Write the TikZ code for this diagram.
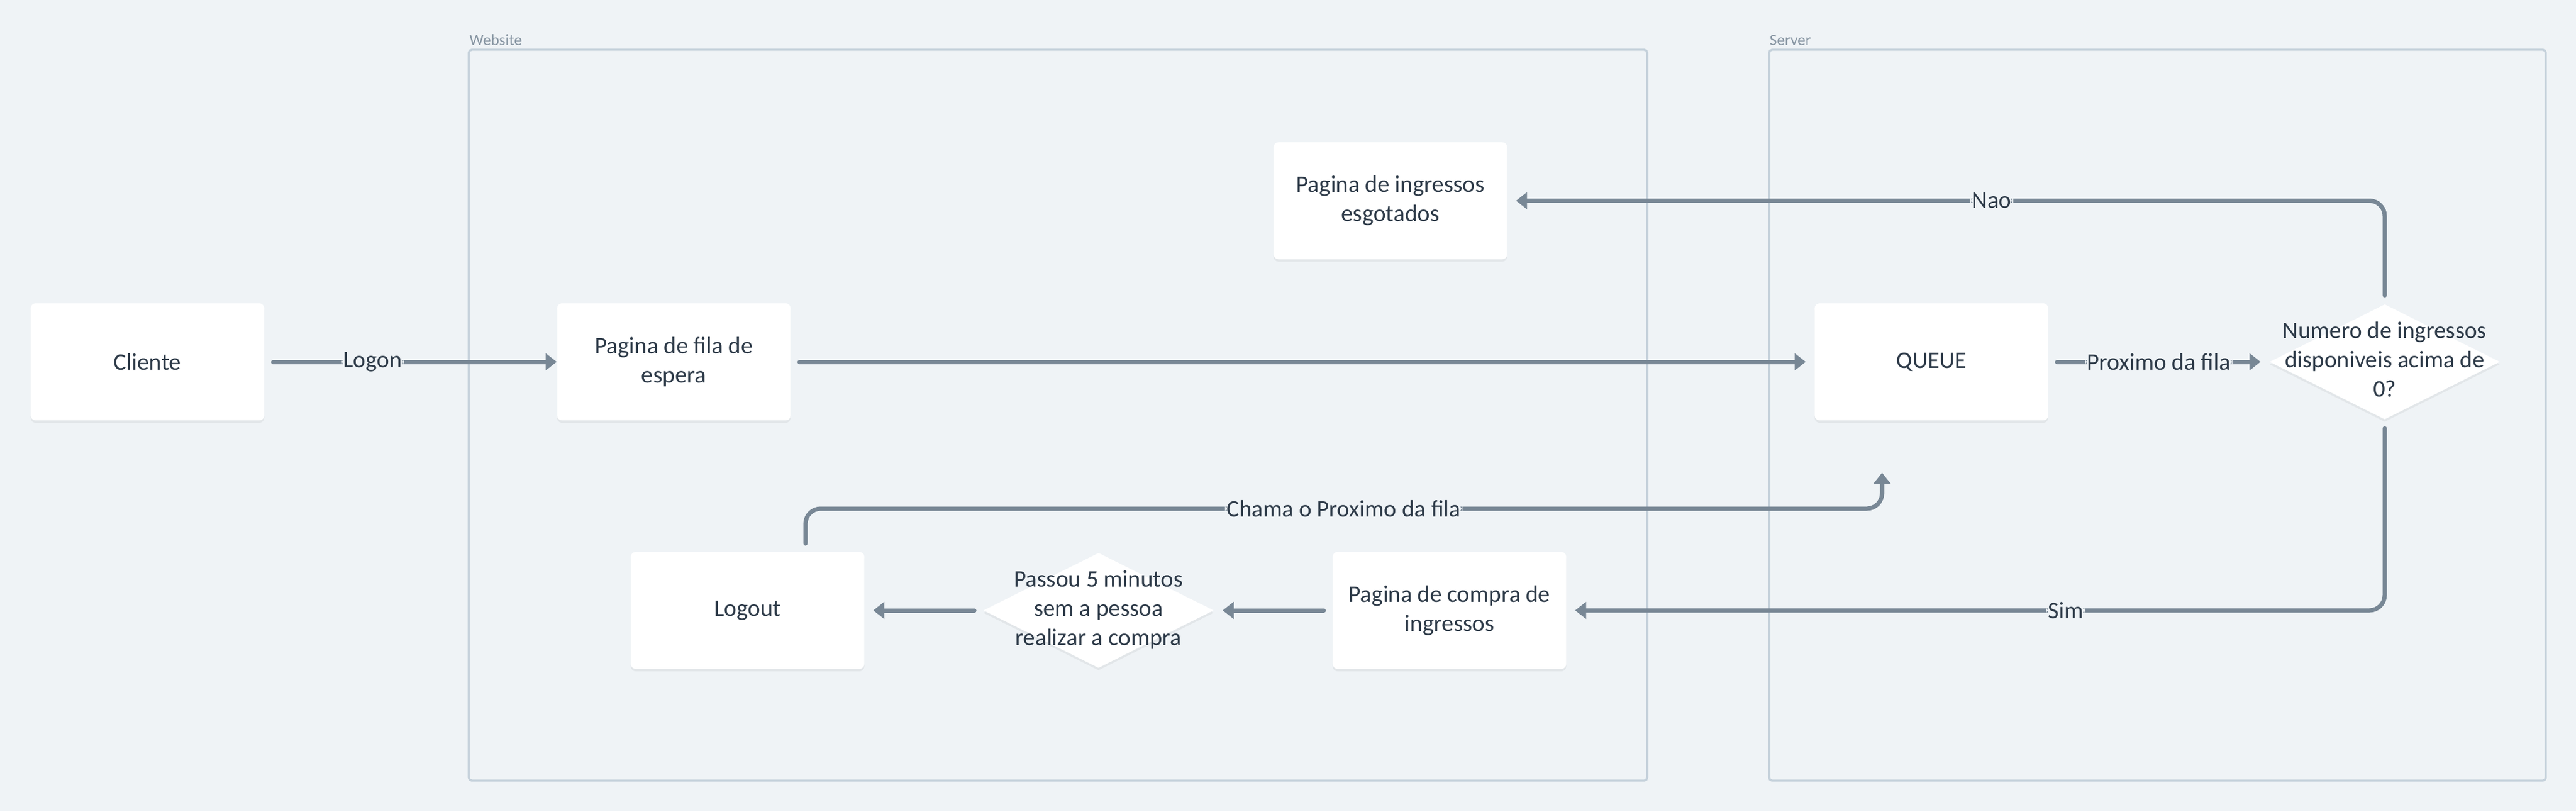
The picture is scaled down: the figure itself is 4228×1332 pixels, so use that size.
\documentclass[tikz,border=0pt]{standalone}
\usepackage{fontspec}
\setmainfont{Carlito}
\usetikzlibrary{arrows.meta,shapes.geometric,shadows}
\definecolor{bgc}{HTML}{EFF3F6}
\definecolor{framec}{HTML}{C5D1DB}
\definecolor{arrowc}{HTML}{788795}
\definecolor{textc}{HTML}{2D3A48}
\definecolor{flabelc}{HTML}{8896A3}
\newcommand\mainfs{\fontsize{11.1pt}{13.66pt}\selectfont}
\newcommand\framefs{\fontsize{7.4pt}{9pt}\selectfont}
\newcommand\diatext[1]{\smash{\makebox[0pt]{\raisebox{-2.75pt}{\begin{tabular}{@{}c@{}}#1\end{tabular}}}}}
\begin{document}
\begin{tikzpicture}[x=0.01cm, y=-0.01cm,
  box/.style={fill=white, rounded corners=0.08cm, minimum width=3.83cm, minimum height=1.92cm,
    align=center, text=textc, font=\mainfs, inner sep=0pt,
    drop shadow={shadow xshift=0pt, shadow yshift=-0.04cm, opacity=0.05, fill=black}},
  dia/.style={shape=diamond, fill=white, minimum width=3.78cm, minimum height=1.89cm,
    inner sep=0pt, text=textc, font=\mainfs,
    drop shadow={shadow xshift=0pt, shadow yshift=-0.04cm, opacity=0.05, fill=black}},
  frame/.style={draw=framec, line width=0.035cm, rounded corners=0.05cm, inner sep=0pt},
  flbl/.style={text=flabelc, font=\framefs, inner sep=0pt},
  arr/.style={draw=arrowc, line width=0.07cm, line cap=round, line join=round,
    -{Triangle[length=0.18cm,width=0.27cm]}, rounded corners=0.25cm,
    shorten >=0.14cm, shorten <=0.14cm},
  lbl/.style={fill=bgc, text=textc, font=\mainfs, inner xsep=0.03cm, inner ysep=0.02cm}
]
\useasboundingbox (0,0) rectangle (4228,1332);
\fill[bgc] (0,0) rectangle (4228,1332);

% frames
\node[frame, minimum width=19.33cm, minimum height=11.99cm] (website) at (1736.5,681.5) {};
\node[frame, minimum width=12.74cm, minimum height=11.99cm] (server) at (3541,681.5) {};
\node[flbl, anchor=base west] (websitelbl) at (770,74) {Website};
\node[flbl, anchor=base west] (serverlbl) at (2904,74) {Server};

% nodes
\node[box] (cliente) at (242,594) {Cliente};
\node[box] (fila) at (1106,594) {Pagina de fila de\\espera};
\node[box] (queue) at (3170,594) {QUEUE};
\node[dia] (dec) at (3914,594) {\diatext{Numero de ingressos\\disponiveis acima de\\0?}};
\node[box] (esg) at (2282,329.5) {Pagina de ingressos\\esgotados};
\node[box] (logout) at (1227,1002) {Logout};
\node[dia] (dec2) at (1803,1002) {\diatext{Passou 5 minutos\\sem a pessoa\\realizar a compra}};
\node[box] (compra) at (2379,1002) {Pagina de compra de\\ingressos};

% connectors
\draw[arr, shorten >=0pt] (cliente) -- node[lbl, pos=0.37] {Logon} (fila);
\draw[arr] (fila) -- (queue);
\draw[arr] (queue) -- node[lbl] {Proximo da fila} (dec);
\draw[arr] (dec) |- node[lbl, pos=0.724] {Nao} (esg);
\draw[arr] (dec) |- node[lbl, pos=0.695] {Sim} (compra);
\draw[arr] (compra) -- (dec2);
\draw[arr] (dec2) -- (logout);

\coordinate (chs) at ([xshift=0.95cm]logout.north);
\coordinate (chm) at (1322,835);
\coordinate (che) at (3089,776);
\draw[arr, shorten <=0.13cm, shorten >=0pt] (chs) -- (chm) -- node[lbl] {Chama o Proximo da fila} (chm -| che) -- (che);
\end{tikzpicture}
\end{document}
